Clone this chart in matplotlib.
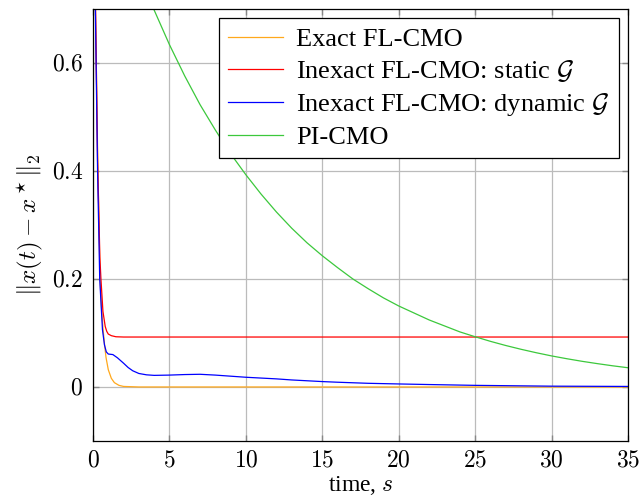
import numpy as np
import matplotlib
matplotlib.use("Agg")
import matplotlib.pyplot as plt

plt.rcParams['font.family'] = 'serif'
plt.rcParams['font.serif'] = ['Liberation Serif', 'DejaVu Serif']
plt.rcParams['mathtext.fontset'] = 'cm'

# values
t_exact = [0, 0.15, 0.3, 0.46, 0.55, 0.65, 0.75, 0.85, 1.0, 1.2, 1.4, 1.7, 2.0, 3.0, 35]
e_exact = [1.2, 0.72, 0.44, 0.20, 0.15, 0.11, 0.08, 0.055, 0.032, 0.016, 0.008, 0.003,
           0.001, 0.0, 0.0]

t_static = [0, 0.15, 0.3, 0.45, 0.52, 0.65, 0.8, 0.9, 1.0, 1.2, 1.5, 2.0, 35]
e_static = [1.2, 0.74, 0.42, 0.24, 0.20, 0.14, 0.112, 0.103, 0.098, 0.095, 0.093, 0.0925, 0.0925]

t_dynamic = [0, 0.15, 0.3, 0.44, 0.62, 0.75, 0.87, 1.0, 1.3, 1.6, 1.8, 2.0, 2.3, 2.6,
             3.0, 3.5, 4.0, 5.0, 6.0, 7.0, 8.0, 9.0, 10, 11, 12, 13, 14, 15, 16, 18,
             20, 22, 25, 30, 35]
e_dynamic = [1.2, 0.71, 0.40, 0.20, 0.106, 0.078, 0.065, 0.061, 0.060, 0.054, 0.049,
             0.044, 0.036, 0.030, 0.025, 0.0225, 0.0215, 0.022, 0.023, 0.0235, 0.022,
             0.020, 0.018, 0.0165, 0.015, 0.013, 0.0115, 0.010, 0.0088, 0.0068,
             0.0056, 0.0045, 0.003, 0.0015, 0.001]

t_pi = [0, 2, 3, 4, 5, 6, 7, 8, 9, 10, 11, 12, 13, 14, 15, 16, 17, 18, 19, 20,
        21, 22, 23, 24, 25, 26, 27, 28, 29, 30, 31, 32, 33, 34, 35]
e_pi = [1.02, 0.85, 0.769, 0.698, 0.634, 0.576, 0.523, 0.476, 0.432, 0.393, 0.357,
        0.324, 0.294, 0.267, 0.243, 0.221, 0.200, 0.182, 0.165, 0.150, 0.137, 0.124,
        0.113, 0.102, 0.093, 0.0845, 0.0768, 0.0698, 0.0634, 0.0575, 0.0523, 0.0475,
        0.0432, 0.0392, 0.0356]

labels = ['Exact FL-CMO', r'Inexact FL-CMO: static $\mathcal{G}$',
          r'Inexact FL-CMO: dynamic $\mathcal{G}$', 'PI-CMO']

fig = plt.figure(figsize=(6.44, 4.98), dpi=100)
ax = fig.add_axes([0.1444, 0.1145, 0.8308, 0.8675])

ax.plot(t_exact, e_exact, color='#FFA81C', lw=0.9, label=labels[0])
ax.plot(t_static, e_static, color='#FF0000', lw=0.9, label=labels[1])
ax.plot(t_dynamic, e_dynamic, color='#0000FF', lw=0.9, label=labels[2])
ax.plot(t_pi, e_pi, color='#3CC83C', lw=0.9, label=labels[3])

ax.set_xlim(0, 35)
ax.set_ylim(-0.1, 0.7)
xt = [0, 5, 10, 15, 20, 25, 30, 35]
yt = [0, 0.2, 0.4, 0.6]
ax.set_xticks(xt)
ax.set_xticklabels(['$%d$' % v for v in xt])
ax.set_yticks(yt)
ax.set_yticklabels(['$0$', '$0.2$', '$0.4$', '$0.6$'])
ax.tick_params(direction='in', length=4, width=1, color='#888888', labelsize=17,
               top=True, right=True, pad=7)
ax.grid(True, color='#BBBBBB', lw=0.9)
for s in ax.spines.values():
    s.set_color('black')
    s.set_linewidth(0.9)

ax.set_xlabel('time, $s$', fontsize=17, labelpad=2)
ax.set_ylabel(r'$\|x(t) - x^\star\|_2$', fontsize=18, labelpad=5)

leg = ax.legend(loc='upper right', fontsize=19, fancybox=False, framealpha=1,
                edgecolor='black', handlelength=2.1, borderaxespad=0.35,
                labelspacing=0.27, handletextpad=0.5, borderpad=0.35)
leg.get_frame().set_linewidth(0.9)

fig.savefig('out.png', dpi=100)
